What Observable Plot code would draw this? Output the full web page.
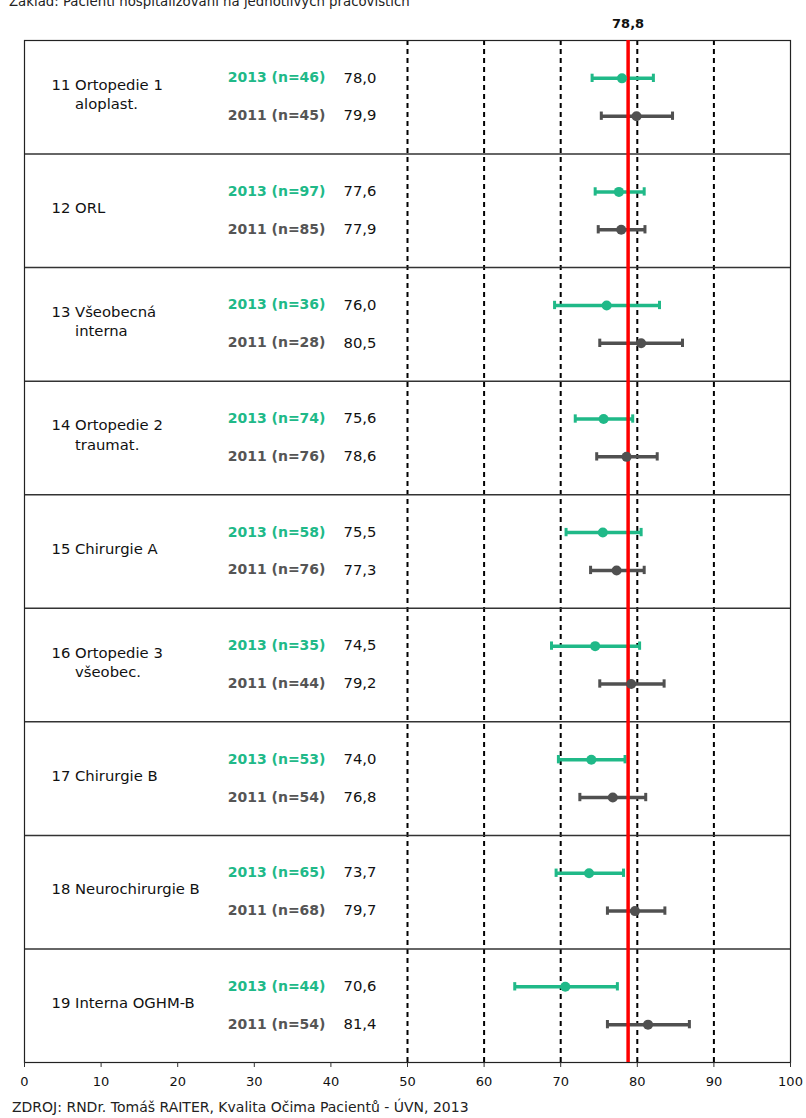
<!DOCTYPE html>
<html>
<head>
<meta charset="utf-8">
<script src="https://cdn.jsdelivr.net/npm/d3@7"></script>
<script src="https://cdn.jsdelivr.net/npm/@observablehq/plot@0.6"></script>
<style>
  html, body { margin: 0; padding: 0; background: #fff; }
  #wrap { position: relative; width: 806px; height: 1118px; overflow: hidden; }
  #sub { position: absolute; left: 9px; top: -6px; font: 13.3px/15px "DejaVu Sans", Verdana, sans-serif; color: #222; white-space: nowrap; }
  #foot { position: absolute; left: 12px; top: 1099px; font: 14px/16px "DejaVu Sans", Verdana, sans-serif; color: #222; white-space: nowrap; }
  #chart { position: absolute; left: 0; top: 0; }
</style>
</head>
<body>
<div id="wrap">
  <div id="chart"></div>
  <div id="sub">Základ: Pacienti hospitalizovaní na jednotlivých pracovištích</div>
  <div id="foot">ZDROJ: RNDr. Tomáš RAITER, Kvalita Očima Pacientů - ÚVN, 2013</div>
</div>
<script>
const deptNames = ["11 Ortopedie 1\naloplast.", "12 ORL", "13 Všeobecná\ninterna", "14 Ortopedie 2\ntraumat.", "15 Chirurgie A", "16 Ortopedie 3\nvšeobec.", "17 Chirurgie B", "18 Neurochirurgie B", "19 Interna OGHM-B"];
const n2013 = [46, 97, 36, 74, 58, 35, 53, 65, 44];
const mean2013 = [78.0, 77.6, 76.0, 75.6, 75.5, 74.5, 74.0, 73.7, 70.6];
const lo2013 = [74.1, 74.5, 69.2, 71.9, 70.7, 68.8, 69.7, 69.4, 64.0];
const hi2013 = [82.1, 80.9, 82.9, 79.4, 80.5, 80.3, 78.4, 78.2, 77.4];
const n2011 = [45, 85, 28, 76, 76, 44, 54, 68, 54];
const mean2011 = [79.9, 77.9, 80.5, 78.6, 77.3, 79.2, 76.8, 79.7, 81.4];
const lo2011 = [75.3, 74.9, 75.1, 74.7, 73.9, 75.1, 72.5, 76.1, 76.1];
const hi2011 = [84.6, 81.0, 85.9, 82.6, 80.9, 83.5, 81.1, 83.6, 86.8];
const overall = 78.8;
const gridValues = [50, 60, 70, 80, 90];
const axisTicks = [0, 10, 20, 30, 40, 50, 60, 70, 80, 90, 100];

const C2013 = "#20b988", C2011 = "#505050", LBL2011 = "#555555";
const fmt = v => v.toFixed(1).replace(".", ",");
const nb = "\u00a0".repeat(5);

const rows = [];
deptNames.forEach((d, i) => {
  rows.push({dept: d, year: 2013, n: n2013[i], mean: mean2013[i], lo: lo2013[i], hi: hi2013[i], slot: 3 * i + 1, color: C2013, lbl: C2013});
  rows.push({dept: d, year: 2011, n: n2011[i], mean: mean2011[i], lo: lo2011[i], hi: hi2011[i], slot: 3 * i + 2, color: C2011, lbl: LBL2011});
});
const groups = deptNames.map((d, i) => ({label: d.replace("\n", "\n" + nb), mid: 3 * i + 1.5}));
const separators = deptNames.slice(1).map((d, i) => 3 * (i + 1));
const capHalf = 0.11;

const chart = Plot.plot({
  width: 806,
  height: 1118,
  marginTop: 40,
  marginBottom: 56,
  marginLeft: 24,
  marginRight: 16,
  style: {fontFamily: "'DejaVu Sans', Verdana, sans-serif", background: "transparent"},
  x: {domain: [0, 100]},
  y: {domain: [0, 27], reverse: true, axis: null},
  marks: [
    Plot.ruleX(gridValues, {stroke: "#000", strokeWidth: 2, strokeDasharray: "5,4"}),
    Plot.ruleY(separators, {stroke: "#333", strokeWidth: 1.5}),
    Plot.frame({stroke: "#222", strokeWidth: 1.2}),
    Plot.ruleY(rows, {y: "slot", x1: "lo", x2: "hi", stroke: "color", strokeWidth: 3.5}),
    Plot.ruleX(rows, {x: "lo", y1: d => d.slot - capHalf, y2: d => d.slot + capHalf, stroke: "color", strokeWidth: 3}),
    Plot.ruleX(rows, {x: "hi", y1: d => d.slot - capHalf, y2: d => d.slot + capHalf, stroke: "color", strokeWidth: 3}),
    Plot.ruleX([overall], {stroke: "#ff0000", strokeWidth: 3.5}),
    Plot.dot(rows, {x: "mean", y: "slot", r: 5, fill: "color", stroke: null}),
    Plot.text(groups, {frameAnchor: "left", y: "mid", text: "label", textAnchor: "start", dx: 27, dy: -4, fontSize: 14.8, lineHeight: 1.32, fill: "#111"}),
    Plot.text(rows, {frameAnchor: "left", y: "slot", text: d => `${d.year} (n=${d.n})`, textAnchor: "end", dx: 301, dy: -0.5, fontSize: 14, fontWeight: "bold", fill: "lbl"}),
    Plot.text(rows, {frameAnchor: "left", y: "slot", text: d => fmt(d.mean), textAnchor: "start", dx: 319, dy: -0.5, fontSize: 14.8, fill: "#111"}),
    Plot.text([overall], {x: d => d, frameAnchor: "top", dy: -22, text: d => fmt(d), fontSize: 13, fontWeight: "bold", fill: "#111"}),
    Plot.axisX({ticks: axisTicks, tickSize: 5, tickPadding: 9, tickFormat: d => String(d), fontSize: 13, fill: "#111", stroke: "#333"})
  ]
});
document.getElementById("chart").appendChild(chart);
</script>
</body>
</html>
